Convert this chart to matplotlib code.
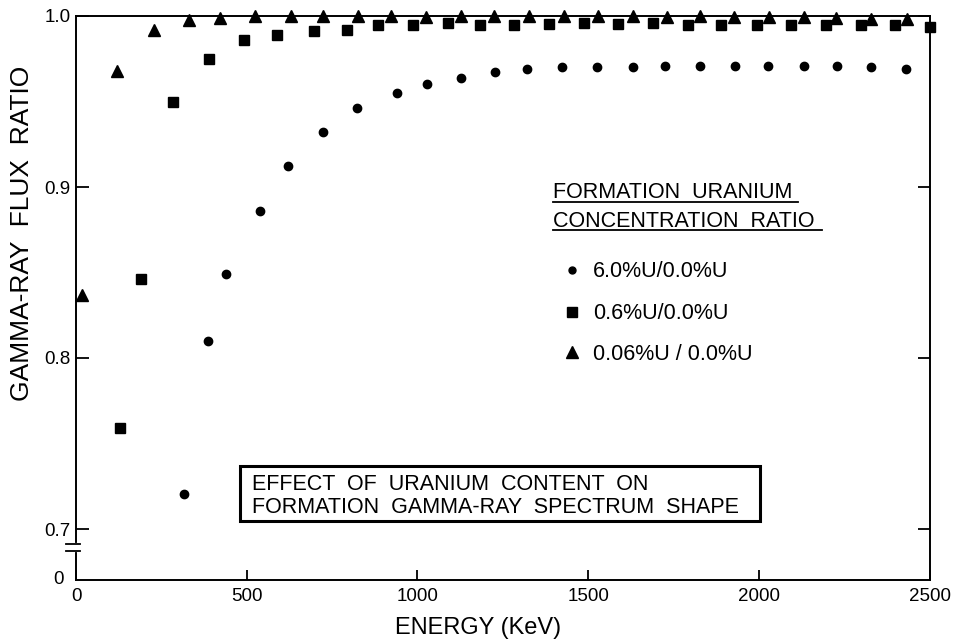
import matplotlib
matplotlib.use("Agg")
from matplotlib import pyplot as plt
from matplotlib.lines import Line2D
from matplotlib.patches import Rectangle

plt.rcParams['font.family'] = ['Liberation Sans', 'DejaVu Sans']

# datos (energia en KeV, razon de flujo)
e_60 = [315, 386, 440, 539, 622, 724, 823, 940, 1027, 1128, 1227, 1321, 1424,
        1526, 1631, 1726, 1829, 1929, 2027, 2131, 2229, 2330, 2430]
r_60 = [0.7205, 0.810, 0.849, 0.886, 0.912, 0.932, 0.946, 0.955, 0.9605, 0.964,
        0.967, 0.969, 0.970, 0.970, 0.970, 0.9705, 0.9705, 0.9706, 0.9705,
        0.971, 0.9705, 0.970, 0.969]

e_06 = [128, 190, 284, 390, 492, 588, 698, 795, 886, 988, 1091, 1184, 1284,
        1386, 1489, 1587, 1690, 1792, 1890, 1996, 2095, 2196, 2298, 2398, 2500]
r_06 = [0.759, 0.846, 0.950, 0.975, 0.986, 0.989, 0.991, 0.992, 0.9945, 0.9945,
        0.996, 0.995, 0.995, 0.9955, 0.996, 0.9955, 0.996, 0.995, 0.995, 0.995,
        0.995, 0.9947, 0.995, 0.9947, 0.9935]

e_006 = [18, 121, 229, 330, 422, 524, 629, 724, 825, 924, 1025, 1127, 1225,
         1328, 1429, 1528, 1631, 1732, 1829, 1927, 2029, 2133, 2227, 2328, 2433]
r_006 = [0.837, 0.968, 0.992, 0.9975, 0.9986, 1.0, 1.0, 1.0, 1.0, 1.0, 0.9994,
         1.0, 1.0, 1.0, 1.0, 1.0, 1.0, 0.9994, 1.0, 0.9994, 0.9994, 0.9994,
         0.999, 0.9984, 0.9984]

labels = ['6.0%U/0.0%U', '0.6%U/0.0%U', '0.06%U / 0.0%U']
x_ticks = [0, 500, 1000, 1500, 2000, 2500]
y_ticks = [0.7, 0.8, 0.9, 1.0]

W, H = 955, 641
def fx(x):
    return x / W
def fy(y):
    return 1 - y / H

fig = plt.figure(figsize=(9.55, 6.41), dpi=100)
ax = fig.add_axes([fx(76), fy(579.5), (929.5 - 76) / W, (579.5 - 16) / H])

ymin = 1 - (579.5 - 16) / 1710
ax.set_xlim(0, 2500)
ax.set_ylim(ymin, 1.0)

ax.plot(e_60, r_60, 'o', color='black', markersize=6, clip_on=False)
ax.plot(e_06, r_06, 's', color='black', markersize=7, clip_on=False)
ax.plot(e_006, r_006, '^', color='black', markersize=9, clip_on=False)

for s in ax.spines.values():
    s.set_linewidth(1.4)

ax.set_xticks(x_ticks)
ax.set_xticklabels([str(t) for t in x_ticks], fontsize=13.5)
ax.set_yticks(y_ticks)
ax.set_yticklabels(['0.7', '0.8', '0.9', '1.0'], fontsize=13.5)
ax.tick_params(axis='x', direction='in', length=7, width=1.3, pad=6)
ax.tick_params(axis='y', direction='in', length=9, width=1.3, pad=4, right=True)

# cero falso y corte del eje
ax.text(-50, ymin, '0', fontsize=13.5, ha='center', va='center')
yb1 = 1 - (544 - 16) / 1710
yb2 = 1 - (551 - 16) / 1710
ax.plot([0, 0], [yb1 - 0.0007, yb2 + 0.0007], color='white', lw=3, clip_on=False, zorder=5)
ax.plot([-28, 13], [yb1, yb1], color='black', lw=1.3, clip_on=False, zorder=6)
ax.plot([-28, 13], [yb2, yb2], color='black', lw=1.3, clip_on=False, zorder=6)

# leyenda a mano
fig.text(fx(553), fy(198), 'FORMATION  URANIUM', fontsize=15.5, va='baseline')
fig.text(fx(553), fy(227), 'CONCENTRATION  RATIO', fontsize=15.5, va='baseline')
fig.add_artist(Line2D([fx(553), fx(798)], [fy(201.5), fy(201.5)], color='black', lw=1.3))
fig.add_artist(Line2D([fx(553), fx(822)], [fy(230), fy(230)], color='black', lw=1.3))

marks = ['o', 's', '^']
msizes = [5, 6.5, 8.5]
rows = [270, 311.7, 352.3]
for m, ms, yy, lab in zip(marks, msizes, rows, labels):
    fig.add_artist(Line2D([fx(572)], [fy(yy)], marker=m, markersize=ms, color='black', linestyle='none'))
    fig.text(fx(593), fy(yy + 7.5), lab, fontsize=15.5, va='baseline')

# recuadro
fig.add_artist(Rectangle((fx(239.5), fy(521)), (759.5 - 239.5) / W, (521 - 466) / H,
                         fill=False, edgecolor='black', lw=2.2, transform=fig.transFigure))
fig.text(fx(252), fy(489.5), 'EFFECT  OF  URANIUM  CONTENT  ON', fontsize=15.5, va='baseline')
fig.text(fx(252), fy(513), 'FORMATION  GAMMA-RAY  SPECTRUM  SHAPE', fontsize=15.5, va='baseline')

fig.text(fx(22), fy(233), 'GAMMA-RAY  FLUX  RATIO', fontsize=19, rotation=90,
         ha='center', va='center')
fig.text(fx(478), fy(639), 'ENERGY (KeV)', fontsize=17, ha='center', va='bottom')

fig.savefig('out.png', dpi=100)
